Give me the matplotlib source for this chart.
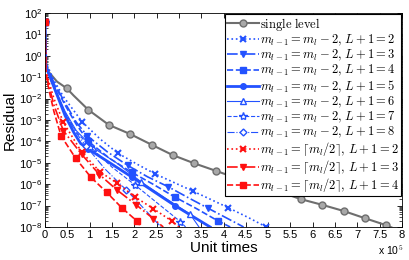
import matplotlib
matplotlib.use("Agg")
import matplotlib.pyplot as plt
from matplotlib.ticker import LogLocator, NullFormatter

plt.rcParams['font.family'] = ['Liberation Sans', 'DejaVu Sans']
plt.rcParams['mathtext.fontset'] = 'cm'

# unit times in units of 1e5, residuals
gray_x = [0, 0.03, 0.08, 0.27, 0.49, 0.64, 0.97, 1.43, 1.91, 2.40, 2.86, 3.34, 3.83,
          4.30, 4.78, 5.25, 5.73, 6.20, 6.69, 7.16, 7.65, 7.85]
gray_y = [40, 0.35, 0.18, 0.062, 0.030, 0.014, 3.0e-3, 5.9e-4, 2.2e-4, 6.8e-5, 2.3e-5,
          9.5e-6, 4.2e-6, 1.9e-6, 9.1e-7, 4.5e-7, 2.0e-7, 1.1e-7, 5.6e-8, 2.6e-8, 1.2e-8, 8e-9]
gray_mk = [0, 4, 6, 7, 8, 9, 10, 11, 12, 13, 14, 15, 16, 17, 18, 19, 20]

b2_x = [0, 0.02, 0.2, 0.41, 0.83, 1.24, 1.64, 2.05, 2.47, 2.89, 3.31, 3.70, 4.11, 4.55, 4.96]
b2_y = [40, 0.5, 0.071, 0.0126, 8.3e-4, 1.26e-4, 2.75e-5, 8.9e-6, 3.0e-6, 1.2e-6, 4.8e-7,
        2.0e-7, 7.9e-8, 2.8e-8, 1.0e-8]
b2_mk = [0, 4, 6, 8, 10, 12, 14]

b3_x = [0, 0.02, 0.2, 0.45, 0.7, 0.95, 1.4, 1.85, 2.3, 2.76, 3.2, 3.66, 4.45]
b3_y = [40, 0.4, 0.056, 6.3e-3, 7.9e-4, 1.8e-4, 3.2e-5, 7.6e-6, 2.2e-6, 7.6e-7, 2.4e-7, 7.4e-8, 1.0e-8]
b3_mk = [0, 5, 7, 9, 11]

b4_x = [0, 0.02, 0.2, 0.45, 0.7, 0.97, 1.45, 1.94, 2.42, 2.91, 3.4, 3.88, 4.15]
b4_y = [40, 0.35, 0.05, 5.0e-3, 6.3e-4, 1.0e-4, 1.6e-5, 3.6e-6, 1.0e-6, 2.5e-7, 7.1e-8, 1.9e-8, 1.0e-8]
b4_mk = [0, 5, 7, 9, 11]

b5_x = [0, 0.02, 0.2, 0.45, 0.65, 0.8, 0.97, 1.94, 2.91, 3.7]
b5_y = [40, 0.32, 0.035, 1.6e-3, 2.5e-4, 7.9e-5, 4.4e-5, 2.2e-6, 1.0e-7, 1.0e-8]
b5_mk = [0, 6, 7, 8]

b6_x = [0, 0.02, 0.2, 0.45, 0.7, 1.08, 1.6, 2.16, 2.7, 3.25, 3.45]
b6_y = [40, 0.32, 0.04, 2.5e-3, 3.2e-4, 5.0e-5, 1.0e-5, 1.26e-6, 2.2e-7, 4.0e-8, 1.0e-8]
b6_mk = [0, 5, 7, 9]

b7_x = [0, 0.02, 0.2, 0.45, 0.7, 1.01, 1.5, 2.02, 2.5, 3.03, 3.15]
b7_y = [40, 0.28, 0.035, 2.2e-3, 2.8e-4, 5.6e-5, 6.3e-6, 9.1e-7, 1.4e-7, 1.8e-8, 1.0e-8]
b7_mk = [0, 5, 7, 9]

b8_x = [0, 0.02, 0.2, 0.45, 0.7, 0.91, 1.35, 1.82, 2.2, 2.6]
b8_y = [40, 0.25, 0.032, 2.0e-3, 2.5e-4, 6.3e-5, 5.0e-6, 5.4e-7, 7.9e-8, 1.0e-8]
b8_mk = [0, 5, 7]

r2_x = [0, 0.02, 0.1, 0.2, 0.41, 0.82, 1.23, 1.62, 2.02, 2.43, 2.84, 3.0]
r2_y = [40, 0.2, 0.05, 0.01, 7.9e-4, 3.2e-5, 3.8e-6, 1.1e-6, 2.5e-7, 7.1e-8, 1.9e-8, 1.0e-8]
r2_mk = [0, 4, 5, 6, 7, 8, 9, 10]

r3_x = [0, 0.02, 0.1, 0.2, 0.41, 0.82, 1.22, 1.62, 2.04, 2.43, 2.65]
r3_y = [40, 0.16, 0.032, 5.0e-3, 3.2e-4, 2.5e-5, 2.8e-6, 5.2e-7, 1.1e-7, 2.4e-8, 1.0e-8]
r3_mk = [0, 4, 5, 6, 7, 8, 9]

r4_x = [0, 0.02, 0.1, 0.2, 0.36, 0.69, 1.03, 1.38, 1.72, 2.06, 2.15]
r4_y = [40, 0.13, 0.02, 2.5e-3, 1.8e-4, 1.6e-5, 2.1e-6, 4.2e-7, 7.9e-8, 1.9e-8, 1.0e-8]
r4_mk = [0, 4, 5, 6, 7, 8, 9]

x_ticks = [0, 0.5, 1, 1.5, 2, 2.5, 3, 3.5, 4, 4.5, 5, 5.5, 6, 6.5, 7, 7.5, 8]
x_ticklabels = ['0', '0.5', '1', '1.5', '2', '2.5', '3', '3.5', '4', '4.5',
                '5', '5.5', '6', '6.5', '7', '7.5', '8']

labels = [
    r'$\mathrm{single\ level}$',
    r'$m_{l-1}=m_l-2,\,L+1=2$',
    r'$m_{l-1}=m_l-2,\,L+1=3$',
    r'$m_{l-1}=m_l-2,\,L+1=4$',
    r'$m_{l-1}=m_l-2,\,L+1=5$',
    r'$m_{l-1}=m_l-2,\,L+1=6$',
    r'$m_{l-1}=m_l-2,\,L+1=7$',
    r'$m_{l-1}=m_l-2,\,L+1=8$',
    r'$m_{l-1}=\lceil m_l/2\rceil,\,L+1=2$',
    r'$m_{l-1}=\lceil m_l/2\rceil,\,L+1=3$',
    r'$m_{l-1}=\lceil m_l/2\rceil,\,L+1=4$',
]

BLUE = '#2352ff'
RED = '#ff1010'
GRAY = '#6e6e6e'

fig = plt.figure(figsize=(4.09, 2.6), dpi=100)
ax = fig.add_axes([0.110, 0.127, 0.873, 0.823])

ax.plot(gray_x, gray_y, '-', color=GRAY, lw=1.5, marker='o', ms=5,
        mfc='#a8a8a8', mec=GRAY, mew=1, markevery=gray_mk, label=labels[0])

series = [
    (b2_x, b2_y, b2_mk, BLUE, ':', 1.2, 'x', 4, True),
    (b3_x, b3_y, b3_mk, BLUE, '-.', 1.2, 'v', 5, True),
    (b4_x, b4_y, b4_mk, BLUE, '--', 1.2, 's', 4, True),
    (b5_x, b5_y, b5_mk, BLUE, '-', 2.0, 'o', 4, True),
    (b6_x, b6_y, b6_mk, BLUE, '-', 0.8, '^', 4.5, False),
    (b7_x, b7_y, b7_mk, BLUE, '--', 0.8, '*', 6, False),
    (b8_x, b8_y, b8_mk, BLUE, '-.', 0.8, 'D', 3.5, False),
    (r2_x, r2_y, r2_mk, RED, ':', 1.2, 'x', 4, True),
    (r3_x, r3_y, r3_mk, RED, '-.', 1.2, 'v', 5, True),
    (r4_x, r4_y, r4_mk, RED, '--', 1.2, 's', 4, True),
]
for (x, y, mk, col, ls, lw, m, ms, filled), lab in zip(series, labels[1:]):
    ax.plot(x, y, linestyle=ls, color=col, lw=lw, marker=m, ms=ms,
            mfc=col if filled else 'white', mec=col, mew=1.5 if m == 'x' else 1,
            markevery=mk, label=lab)

ax.set_yscale('log')
ax.set_xlim(0, 8)
ax.set_ylim(1e-8, 1e2)
ax.set_xticks(x_ticks)
ax.set_xticklabels(x_ticklabels)
ax.yaxis.set_major_locator(LogLocator(base=10, numticks=12))
ax.yaxis.set_minor_locator(LogLocator(base=10, subs=range(2, 10), numticks=12))
ax.yaxis.set_minor_formatter(NullFormatter())
ax.tick_params(which='both', direction='in', top=True, right=True, labelsize=8, pad=2)
ax.tick_params(which='major', length=3.5, width=0.6)
ax.tick_params(which='minor', length=2, width=0.5)
for s in ax.spines.values():
    s.set_linewidth(0.6)

ax.set_xlabel('Unit times', fontsize=11, labelpad=1)
ax.set_ylabel('Residual', fontsize=11, labelpad=2)
fig.text(0.925, 0.02, r'x 10$^{5}$', fontsize=7.5)

leg = ax.legend(loc='upper right', fontsize=9, handlelength=2.6, handletextpad=0.1,
                labelspacing=0.0, borderpad=0.12, borderaxespad=0.1,
                fancybox=False, framealpha=1, edgecolor='black')
leg.get_frame().set_linewidth(0.8)

fig.savefig('out.png', dpi=100)
